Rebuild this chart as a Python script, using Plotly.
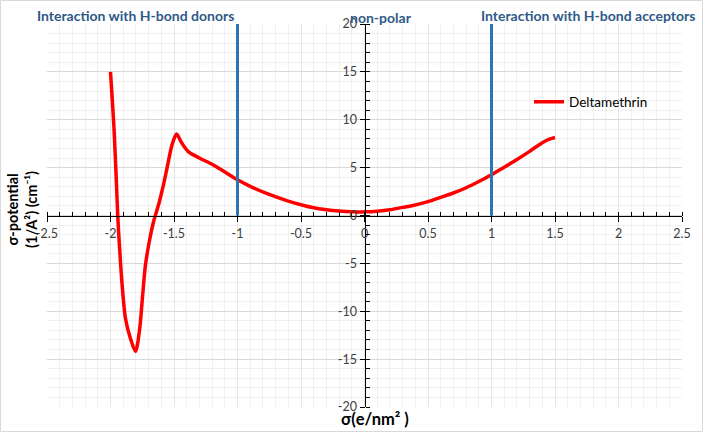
import plotly.graph_objects as go

# sigma (e/nm^2) and sigma-potential values
sigma = [-2.0, -1.97, -1.943, -1.935, -1.908, -1.882, -1.843, -1.803, -1.77, -1.751,
         -1.725, -1.69, -1.66, -1.62, -1.585, -1.555, -1.515, -1.48, -1.44, -1.39,
         -1.3, -1.2, -1.1, -1.0, -0.9, -0.75, -0.6, -0.5, -0.4, -0.3, -0.2, -0.1, 0.0,
         0.1, 0.2, 0.3, 0.4, 0.5, 0.6, 0.7, 0.8, 0.9, 1.0, 1.1, 1.2, 1.3,
         1.4, 1.45, 1.5]
potential = [15.0, 8.5, 0.0, -2.0, -7.3, -10.75, -12.85, -14.2, -11.8, -9.0,
             -5.2, -2.4, -0.6, 1.2, 3.1, 4.95, 7.4, 8.5, 7.6, 6.7,
             6.0, 5.35, 4.55, 3.73, 3.05, 2.2, 1.5, 1.12, 0.8, 0.6, 0.47, 0.4, 0.38,
             0.45, 0.6, 0.85, 1.1, 1.45, 1.9, 2.35, 2.9, 3.55, 4.25, 5.05, 5.85, 6.7,
             7.6, 7.95, 8.15]
series_name = "Deltamethrin"

x_tickvals = [-2.5, -2, -1.5, -1, -0.5, 0, 0.5, 1, 1.5, 2, 2.5]
x_ticktext = ["-2.5", "-2", "-1.5", "-1", "-0.5", "0", "0.5", "1", "1.5", "2", "2.5"]
y_tickvals = [-20, -15, -10, -5, 0, 5, 10, 15, 20]
y_ticktext = ["-20", "-15", "-10", "-5", "0", "5", "10", "15", "20"]

boundaries = [-1.0, 1.0]
boundary_top = 20
region_labels = ["Interaction with H-bond donors", "non-polar", "Interaction with H-bond acceptors"]

W, H = 703, 432
L, R, T, B = 47, 21, 24, 25
pw, ph = W - L - R, H - T - B

def px(xp):
    return (xp - L) / pw

def py(yp):
    return (H - B - yp) / ph

fig = go.Figure()
fig.add_trace(go.Scatter(
    x=sigma, y=potential, mode="lines", name=series_name,
    line=dict(color="#FF0000", width=3.5, shape="spline", smoothing=0.8),
))

for b in boundaries:
    fig.add_shape(type="line", xref="x", yref="y", x0=b, x1=b, y0=0, y1=boundary_top,
                  line=dict(color="#2E75B6", width=3), layer="above")

tickfont = dict(family="Lato, Open Sans, sans-serif", size=12.5, color="#404040")

fig.update_layout(
    width=W, height=H,
    margin=dict(l=L, r=R, t=T, b=B),
    paper_bgcolor="white", plot_bgcolor="white",
    showlegend=True,
    legend=dict(x=px(529), y=py(102), xanchor="left", yanchor="middle",
                font=dict(family="Lato, Open Sans, sans-serif", size=13.5, color="#000000"),
                bgcolor="rgba(0,0,0,0)", itemwidth=30),
    xaxis=dict(
        range=[-2.5, 2.5], tickmode="array", tickvals=x_tickvals, ticktext=x_ticktext,
        anchor="free", position=0.5,
        showline=True, linecolor="black", linewidth=1,
        ticks="outside", ticklen=5, tickcolor="black",
        showgrid=True, gridcolor="#E6E6E6", gridwidth=1,
        zeroline=False, tickfont=tickfont, ticklabelstandoff=1,
        minor=dict(dtick=0.1, tick0=0, ticks="inside", ticklen=4, tickcolor="black",
                   showgrid=True, gridcolor="#F0F0F0"),
    ),
    yaxis=dict(
        range=[-20, 20], tickmode="array", tickvals=y_tickvals, ticktext=y_ticktext,
        anchor="free", position=0.5,
        showline=True, linecolor="black", linewidth=1,
        ticks="outside", ticklen=5, tickcolor="black",
        showgrid=True, gridcolor="#D9D9D9", gridwidth=1,
        zeroline=False, tickfont=tickfont,
        minor=dict(dtick=1, tick0=0, ticks="inside", ticklen=4, tickcolor="black",
                   showgrid=True, gridcolor="#F0F0F0"),
    ),
)

lab_font = dict(family="Lato, Open Sans, sans-serif", size=14, color="#2E5A88")
fig.add_annotation(xref="paper", yref="paper", x=px(35), y=py(16), xanchor="left", yanchor="middle",
                   text="<b>%s</b>" % region_labels[0], showarrow=False, font=lab_font)
fig.add_annotation(xref="paper", yref="paper", x=px(381), y=py(17), xanchor="center", yanchor="middle",
                   text="<b>%s</b>" % region_labels[1], showarrow=False, font=lab_font)
fig.add_annotation(xref="paper", yref="paper", x=px(697), y=py(16), xanchor="right", yanchor="middle",
                   text="<b>%s</b>" % region_labels[2], showarrow=False, font=lab_font)

fig.add_annotation(xref="paper", yref="paper", x=px(375), y=py(419), xanchor="center", yanchor="middle",
                   text="<b>σ(e/nm² )</b>", showarrow=False,
                   font=dict(family="Lato, Open Sans, sans-serif", size=16.5, color="#000000"))
fig.add_annotation(xref="paper", yref="paper", x=px(22), y=py(210), xanchor="center", yanchor="middle",
                   text="<b>σ-potential<br>(1/A²) (cm⁻¹)</b>", showarrow=False,
                   font=dict(family="Lato, Open Sans, sans-serif", size=14.5, color="#000000"),
                   textangle=-90)

fig.add_shape(type="rect", xref="paper", yref="paper", x0=px(0.5), x1=px(702.5), y0=py(431.5), y1=py(0.5),
              line=dict(color="#D9D9D9", width=1), fillcolor="rgba(0,0,0,0)", layer="below")

fig.write_html("out.html")
